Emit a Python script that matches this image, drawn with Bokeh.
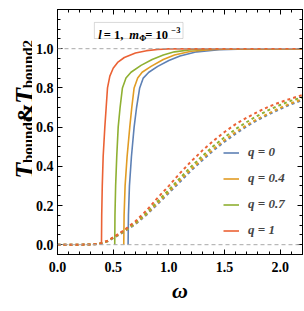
import math
from bokeh.plotting import figure
from bokeh.layouts import row
from bokeh.models import (Range1d, LinearAxis, Span, Legend, LegendItem, Label,
                          BoxAnnotation, SingleIntervalTicker, NumeralTickFormatter)
from bokeh.core.properties import value
from bokeh.embed import file_html
from bokeh.resources import INLINE

# ---------------- data ----------------
q_labels = ["q = 0", "q = 0.4", "q = 0.7", "q = 1"]
colors = ["#5E81B5", "#E19C24", "#8FB032", "#EB6235"]

# T_bound1 (solid)
w_s_q0 = [0.634, 0.637, 0.646, 0.664, 0.688, 0.71, 0.738, 0.77, 0.82, 0.9, 1.0, 1.1, 1.25, 1.45, 1.7, 2.2]
t_s_q0 = [0.0, 0.15, 0.3, 0.45, 0.6, 0.7, 0.8, 0.85, 0.88, 0.91, 0.94, 0.963, 0.984, 0.995, 0.999, 1.0]
w_s_q04 = [0.595, 0.598, 0.607, 0.625, 0.649, 0.667, 0.688, 0.72, 0.76, 0.84, 0.95, 1.05, 1.2, 1.4, 1.6, 2.2]
t_s_q04 = [0.0, 0.15, 0.3, 0.45, 0.6, 0.7, 0.8, 0.85, 0.88, 0.91, 0.945, 0.968, 0.987, 0.996, 0.999, 1.0]
w_s_q07 = [0.514, 0.516, 0.522, 0.532, 0.545, 0.562, 0.583, 0.615, 0.66, 0.75, 0.85, 0.95, 1.05, 1.2, 1.4, 2.2]
t_s_q07 = [0.0, 0.15, 0.3, 0.45, 0.6, 0.7, 0.8, 0.85, 0.88, 0.915, 0.945, 0.968, 0.984, 0.995, 0.999, 1.0]
w_s_q1 = [0.395, 0.397, 0.402, 0.41, 0.425, 0.437, 0.449, 0.47, 0.5, 0.54, 0.6, 0.7, 0.8, 0.9, 1.0, 2.2]
t_s_q1 = [0.0, 0.15, 0.3, 0.45, 0.6, 0.7, 0.8, 0.86, 0.9, 0.93, 0.955, 0.978, 0.99, 0.996, 0.999, 1.0]

# T_bound2 (dashed)
w_d = [0.0, 0.2, 0.3, 0.37, 0.45, 0.52, 0.6, 0.7, 0.8, 0.9, 1.0, 1.1, 1.2, 1.3, 1.4, 1.5,
       1.6, 1.7, 1.8, 1.9, 2.0, 2.1, 2.2]
t_d_q0 = [0, 0, 0.001, 0.003, 0.017, 0.04, 0.067, 0.105, 0.153, 0.208, 0.264, 0.321, 0.378,
          0.431, 0.481, 0.526, 0.567, 0.604, 0.637, 0.666, 0.693, 0.717, 0.738]
t_d_q04 = [0, 0, 0.001, 0.004, 0.018, 0.041, 0.069, 0.108, 0.157, 0.213, 0.27, 0.328, 0.385,
           0.438, 0.488, 0.533, 0.574, 0.61, 0.642, 0.671, 0.698, 0.722, 0.742]
t_d_q07 = [0, 0, 0.001, 0.004, 0.019, 0.043, 0.072, 0.113, 0.163, 0.222, 0.28, 0.34, 0.398,
           0.452, 0.503, 0.548, 0.59, 0.626, 0.659, 0.688, 0.713, 0.735, 0.752]
t_d_q1 = [0, 0, 0.001, 0.004, 0.02, 0.045, 0.075, 0.12, 0.175, 0.24, 0.3, 0.365, 0.425,
          0.48, 0.53, 0.575, 0.615, 0.648, 0.678, 0.705, 0.727, 0.746, 0.764]

solid = [(w_s_q0, t_s_q0), (w_s_q04, t_s_q04), (w_s_q07, t_s_q07), (w_s_q1, t_s_q1)]
dashed = [t_d_q0, t_d_q04, t_d_q07, t_d_q1]

x_ticks_interval = 0.5
y_ticks_interval = 0.2

FONT = "Liberation Serif"
W_LAB = 32
W_TOT, H_TOT = 304, 311

p = figure(width=W_TOT - W_LAB, height=H_TOT, x_range=Range1d(0, 2.2), y_range=Range1d(-0.05, 1.2),
           output_backend="svg", toolbar_location=None,
           min_border_left=56 - W_LAB, min_border_right=2, min_border_top=9, min_border_bottom=57)
p.grid.visible = False
p.outline_line_color = "black"
p.outline_line_width = 1
p.background_fill_color = "white"

xt = SingleIntervalTicker(interval=x_ticks_interval, num_minor_ticks=5)
yt = SingleIntervalTicker(interval=y_ticks_interval, num_minor_ticks=4)

def style_axis(ax, show_labels=True):
    ax.major_tick_in = 5
    ax.major_tick_out = 0
    ax.minor_tick_in = 3
    ax.minor_tick_out = 0
    ax.axis_line_color = "black"
    ax.major_tick_line_color = "black"
    ax.minor_tick_line_color = "black"
    if show_labels:
        ax.major_label_text_font = FONT
        ax.major_label_text_font_style = "bold"
        ax.major_label_text_font_size = "14px"
        ax.major_label_text_color = "black"
        ax.major_label_standoff = 4
        ax.formatter = NumeralTickFormatter(format="0.0")
    else:
        ax.major_label_text_font_size = "0px"
        ax.major_label_text_color = None
        ax.major_label_standoff = 0

p.xaxis.ticker = xt
p.yaxis.ticker = yt
style_axis(p.xaxis[0])
style_axis(p.yaxis[0])
p.xaxis[0].major_label_standoff = 7
p.xaxis[0].axis_label = "ω"
p.xaxis[0].axis_label_text_font = FONT
p.xaxis[0].axis_label_text_font_style = "bold italic"
p.xaxis[0].axis_label_text_font_size = "22px"
p.xaxis[0].axis_label_text_color = "black"
p.xaxis[0].axis_label_standoff = 3

top = LinearAxis(ticker=xt)
right = LinearAxis(ticker=yt)
style_axis(top, False)
style_axis(right, False)
p.add_layout(top, "above")
p.add_layout(right, "right")

# reference lines
for yv in (0.0, 1.0):
    p.add_layout(Span(location=yv, dimension="width", line_color="#a8a8a8",
                      line_dash="4 3", line_width=1))

renderers = []
for (ws, ts), c in zip(solid, colors):
    r = p.line(ws, ts, line_color=c, line_width=1.6)
    renderers.append(r)
for td, c in zip(dashed, colors):
    p.line(w_d, td, line_color=c, line_width=2, line_dash="3 3")

legend = Legend(items=[LegendItem(label=l, renderers=[r]) for l, r in zip(q_labels, renderers)],
                location=(166, 16), orientation="vertical")
legend.label_text_font = FONT
legend.label_text_font_style = "bold italic"
legend.label_text_font_size = "13px"
legend.glyph_width = 16
legend.glyph_height = 15
legend.label_height = 15
legend.spacing = 10
legend.padding = 0
legend.margin = 0
legend.label_standoff = 9
legend.border_line_alpha = 0
legend.background_fill_alpha = 0
p.add_layout(legend)

# annotation box
p.add_layout(BoxAnnotation(left=0.331, right=1.127, bottom=1.052, top=1.134,
                           fill_color="white", fill_alpha=1, line_color="#808080",
                           line_width=1))
bx, by = 0.367, 1.0724
pieces = [("l", 0, 0, "12.5px", "bold italic"),
          (" = 1, ", 5.5, 0, "12.5px", "bold"),
          ("m", 31.0, 0, "12.5px", "bold italic"),
          ("Φ", 40.8, -3, "8.5px", "bold"),
          (" = 10", 47.0, 0, "12.5px", "bold"),
          ("−3", 73.0, 5, "8.5px", "bold")]
for txt, dx, dy, fs, st in pieces:
    p.add_layout(Label(x=bx, y=by, x_offset=dx, y_offset=dy, text=txt, text_font=FONT,
                       text_font_size=fs, text_font_style=st, text_color="black",
                       text_baseline="alphabetic", text_align="left"))

# ---- y axis label in a narrow side panel ----
lab = figure(width=W_LAB, height=H_TOT, x_range=Range1d(0, W_LAB), y_range=Range1d(0, H_TOT),
             output_backend="svg", toolbar_location=None, min_border=0)
lab.axis.visible = False
lab.grid.visible = False
lab.outline_line_color = None
ytxt = ["T", "bound1", "&", "T", "bound2"]
ypos_x = [24, 27.5, 24, 24, 27.5]
ypos_y = [96, 116, 167, 191, 211]
ysizes = ["26px", "15px", "24px", "26px", "15px"]
ystyles = ["bold italic", "bold", "bold", "bold italic", "bold"]
for t, xx, yy, fs, st in zip(ytxt, ypos_x, ypos_y, ysizes, ystyles):
    lab.text(x=[xx], y=[yy], text=[t], angle=math.pi / 2, text_font=value(FONT),
             text_font_size=fs, text_font_style=st, text_color="black",
             text_baseline="alphabetic", text_align="left")

layout = row(lab, p)
open("out.html", "w").write(file_html(layout, INLINE))
